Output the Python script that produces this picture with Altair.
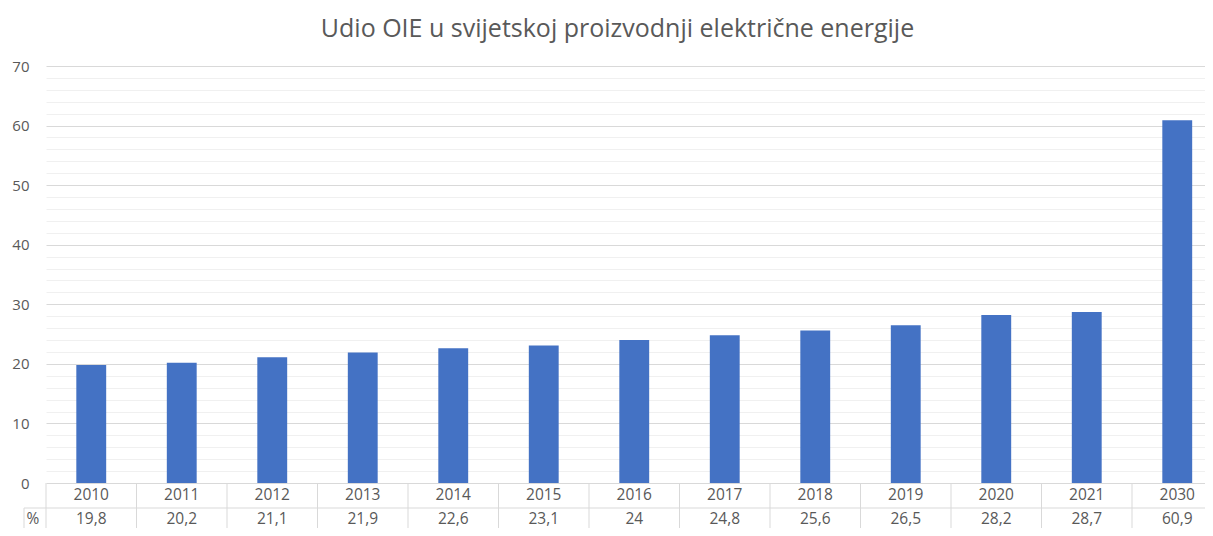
import altair as alt
import pandas as pd

years = ["2010", "2011", "2012", "2013", "2014", "2015", "2016",
         "2017", "2018", "2019", "2020", "2021", "2030"]
values = [19.8, 20.2, 21.1, 21.9, 22.6, 23.1, 24, 24.8, 25.6, 26.5, 28.2, 28.7, 60.9]
y_ticks = list(range(0, 71, 2))
title_text = "Udio OIE u svijetskoj proizvodnji električne energije"
row_label = "%"

df = pd.DataFrame({"year": years, "value": values})

W, H = 1159, 417
FONT = "Open Sans"
GREY = "#595959"
LINE = "#d9d9d9"
FS = 15.5

xscale = alt.Scale(domain=years, paddingInner=0, paddingOuter=0, range=[0, 1176.5])

bars = alt.Chart(df).mark_bar(color="#4472c4", width=alt.RelativeBandSize(0.33)).encode(
    x=alt.X("year:N", scale=xscale, axis=None, sort=years),
    y=alt.Y("value:Q", scale=alt.Scale(domain=[0, 70], nice=False),
            axis=alt.Axis(values=y_ticks, title=None, domain=False, ticks=False,
                          labelExpr="datum.value % 10 === 0 ? datum.label : ''",
                          labelFont=FONT, labelFontSize=15, labelColor=GREY,
                          labelPadding=17,
                          gridColor=alt.condition("datum.value % 10 === 0",
                                                  alt.value(LINE), alt.value("#f0f0f0")),
                          gridWidth=1)),
)

year_text = alt.Chart(df).mark_text(font=FONT, fontSize=FS, color=GREY, baseline="middle").encode(
    x=alt.X("year:N", scale=xscale, axis=None, sort=years, bandPosition=0.5),
    y=alt.value(H + 12),
    text="year:N",
)

val_text = alt.Chart(df).transform_calculate(
    lab="replace(toString(datum.value), '.', ',')"
).mark_text(font=FONT, fontSize=FS, color=GREY, baseline="middle").encode(
    x=alt.X("year:N", scale=xscale, axis=None, sort=years, bandPosition=0.5),
    y=alt.value(H + 36),
    text="lab:N",
)

vlines = alt.Chart(df).mark_rule(color=LINE, strokeWidth=1).encode(
    x=alt.X("year:N", scale=xscale, axis=None, sort=years, bandPosition=0),
    y=alt.value(H),
    y2=alt.value(H + 60),
)

one = alt.Data(values=[{"k": 1}])

left_vline = alt.Chart(one).mark_rule(color=LINE, strokeWidth=1).encode(
    x=alt.value(-22), y=alt.value(H + 25), y2=alt.value(H + 60)
)
hline = alt.Chart(one).mark_rule(color=LINE, strokeWidth=1).encode(
    x=alt.value(-22), x2=alt.value(W), y=alt.value(H + 25)
)
pct = alt.Chart(one).mark_text(font=FONT, fontSize=FS, color=GREY, baseline="middle").encode(
    x=alt.value(-13), y=alt.value(H + 36), text=alt.value(row_label)
)

chart = alt.layer(vlines, left_vline, hline, bars, year_text, val_text, pct).properties(
    width=W, height=H,
    title=alt.TitleParams(title_text, font=FONT, fontSize=25, fontWeight="normal",
                          color=GREY, anchor="middle", frame="group", dx=-8,
                          offset=17),
    autosize=alt.AutoSizeParams(type="none"),
    padding={"left": 38, "top": 58, "right": 0, "bottom": 45},
).configure_view(stroke=None)

chart.save("out.html", embed_options={"renderer": "svg", "actions": False})
